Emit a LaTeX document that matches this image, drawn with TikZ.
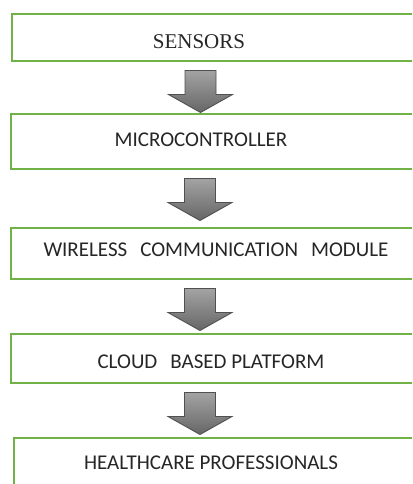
\documentclass[tikz,border=0pt]{standalone}
\usepackage{fontspec}
\setmainfont{Carlito}
\newfontfamily\seriffam{Liberation Serif}
\usetikzlibrary{positioning,calc}
\definecolor{boxgreen}{RGB}{112,178,72}
\definecolor{arrowedge}{RGB}{80,80,80}
\newcommand{\wgap}{\hspace{13pt}}

\begin{document}
\begin{tikzpicture}[x=1pt,y=-1pt,
  stage/.style={draw=boxgreen,line width=2pt,fill=white,minimum width=430pt,anchor=north west,inner sep=0pt},
  stagetext/.style={font=\fontsize{21}{25}\selectfont,text=black!85,inner sep=0pt},
  flow/.style={draw=arrowedge,line width=0.9pt,line join=miter,top color=black!36,bottom color=black!60}]
\useasboundingbox (0,0) rectangle (412,484);
\clip (0,0) rectangle (412,484);

% Stages
\node[stage,minimum height=46.5pt] (b1) at (10.5,13.5) {};
\node[stage,minimum height=55pt] (b2) at (10,113) {};
\node[stage,minimum height=51pt] (b3) at (10,227) {};
\node[stage,minimum height=49pt] (b4) at (10,333) {};
\node[stage,minimum height=70pt] (b5) at (13,437) {};

% Labels
\node[stagetext,font=\seriffam\fontsize{21}{25}\selectfont] (t1) at (199,41.5) {SENSORS};
\node[stagetext] (t2) at (201,140) {MICROCONTROLLER};
\node[stagetext] (t3) at (216,249.5) {WIRELESS\wgap COMMUNICATION\wgap MODULE};
\node[stagetext] (t4) at (211,361.5) {CLOUD\wgap BASED PLATFORM};
\node[stagetext] (t5) at (211,462.5) {HEALTHCARE PROFESSIONALS};

% Block arrows between stages
\foreach \a in {b1,b2,b3,b4}
  \draw[flow] ($(\a.south west)+(174.5,8.5)$) coordinate (\a-out)
    -- ++(31,0) -- ++(0,24) -- ++(16.5,0) -- ++(-32,18) -- ++(-32,-18) -- ++(16.5,0) -- cycle;
\end{tikzpicture}
\end{document}
